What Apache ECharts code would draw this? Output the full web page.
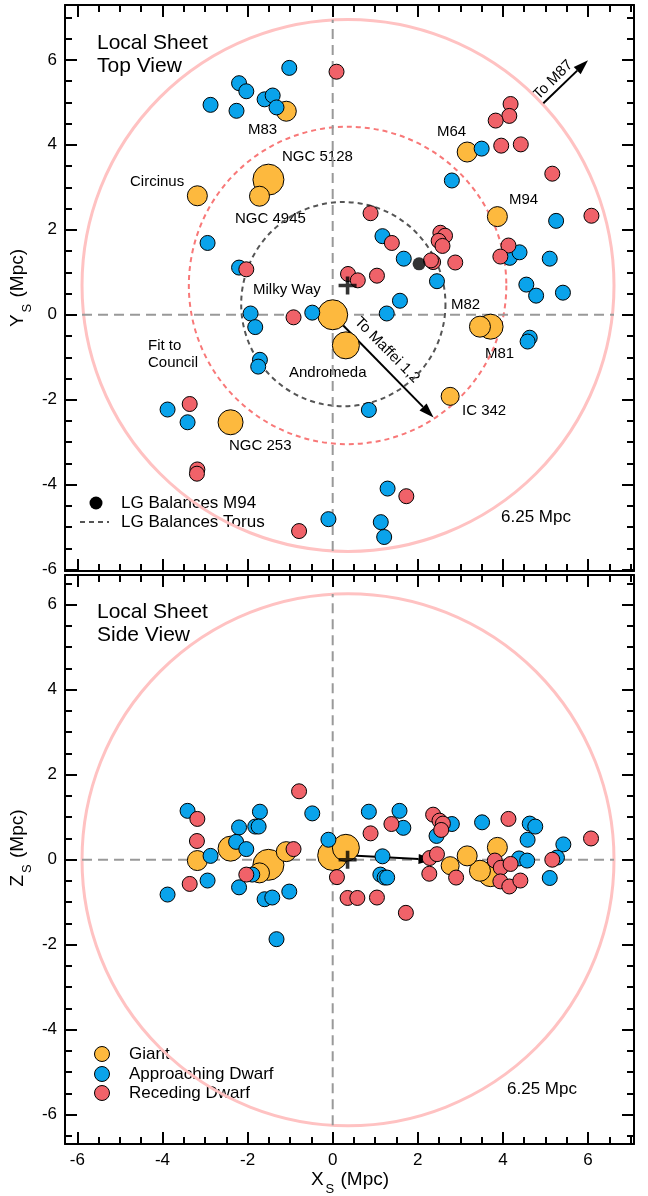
<!DOCTYPE html>
<html>
<head>
<meta charset="utf-8">
<script src="https://cdn.jsdelivr.net/npm/echarts@6/dist/echarts.min.js"></script>
<style>
  html, body { margin: 0; padding: 0; background: #fff; }
  #chart { width: 648px; height: 1196px; }
</style>
</head>
<body>
<div id="chart"></div>
<script>
// axis extents (Mpc)
const xRange = [-6.29, 7.08];
const yTopRange = [-6.03, 7.29];
const zSideRange = [-6.69, 6.70];

// giant galaxies, same order in both views
const giantNames = ['Milky Way', 'Andromeda', 'M81', 'M82', 'NGC 5128', 'M83', 'NGC 4945', 'Circinus', 'NGC 253', 'M64', 'M94', 'IC 342'];
const giantX = [0.00, 0.31, 3.71, 3.46, -1.51, -1.09, -1.72, -3.18, -2.40, 3.16, 3.87, 2.76];
const giantY = [0.00, -0.72, -0.28, -0.28, 3.18, 4.79, 2.79, 2.80, -2.53, 3.83, 2.31, -1.92];
const giantZ = [0.10, 0.28, -0.34, -0.26, -0.12, 0.19, -0.31, -0.02, 0.26, 0.09, 0.29, -0.14];
const giantMass = [1.5, 1.35, 1.25, 1.05, 1.55, 1.0, 1.0, 1.0, 1.25, 1.0, 1.0, 0.9];

// dwarfs, top view [X, Y]
const topApproaching = [
  [-1.02, 5.81], [-2.87, 4.94], [-2.20, 5.45], [-2.03, 5.26], [-2.26, 4.80], [-1.60, 5.07],
  [-1.41, 5.16], [-1.32, 4.88], [-2.94, 1.69], [-2.20, 1.11], [3.50, 3.91], [2.80, 3.16],
  [5.25, 2.21], [1.17, 1.85], [1.67, 1.32], [2.45, 0.79], [4.16, 1.34], [4.39, 1.47],
  [5.10, 1.32], [4.55, 0.71], [4.78, 0.45], [5.41, 0.52], [1.58, 0.33], [1.27, 0.03],
  [4.63, -0.54], [4.58, -0.63], [0.85, -2.24], [1.29, -4.09], [1.13, -4.88], [1.21, -5.23],
  [-0.10, -4.81], [-1.93, 0.03], [-1.82, -0.29], [-1.71, -1.06], [-1.75, -1.22],
  [-3.88, -2.23], [-3.41, -2.53], [-0.48, 0.05]
];
const topReceding = [
  [-2.03, 1.07], [0.09, 5.72], [4.18, 4.96], [4.15, 4.68], [3.83, 4.57], [3.96, 3.98],
  [4.42, 4.01], [5.16, 3.32], [6.08, 2.33], [0.89, 2.39], [1.39, 1.69], [2.53, 1.93],
  [2.64, 1.86], [2.49, 1.74], [2.58, 1.62], [2.36, 1.24], [2.31, 1.28], [2.88, 1.23],
  [0.36, 0.96], [0.59, 0.81], [1.04, 0.92], [4.13, 1.63], [3.94, 1.37], [-0.92, -0.06],
  [-3.36, -2.10], [-3.18, -3.64], [-3.19, -3.74], [-0.79, -5.09], [1.73, -4.27]
];

// dwarfs, side view [X, Z]
const sideApproaching = [
  [-3.41, 1.15], [-3.88, -0.82], [-2.87, 0.09], [-2.94, -0.49], [-2.20, 0.76], [-2.27, 0.42],
  [-2.03, 0.25], [-2.20, -0.65], [-1.71, 1.13], [-1.82, 0.78], [-1.74, 0.78], [-1.89, -0.35],
  [-1.60, -0.93], [-1.42, -0.89], [-1.02, -0.75], [-1.32, -1.87], [-0.48, 1.09], [-0.10, 0.47],
  [0.85, 1.13], [1.57, 1.15], [1.66, 0.75], [1.17, 0.08], [1.12, -0.35], [1.22, -0.42],
  [1.28, -0.42], [2.80, 0.84], [2.44, 0.56], [3.51, 0.88], [4.63, 0.85], [4.76, 0.78],
  [4.58, 0.47], [4.38, 0.03], [4.57, -0.02], [5.42, 0.36], [5.27, 0.05], [5.10, -0.43]
];
const sideReceding = [
  [-3.18, 0.96], [-3.19, 0.44], [-3.36, -0.57], [-2.03, -0.35], [-0.79, 1.61], [-0.92, 0.25],
  [0.10, -0.41], [0.35, -0.90], [0.58, -0.90], [1.04, -0.89], [0.89, 0.62], [1.38, 0.84],
  [1.72, -1.25], [2.36, 1.06], [2.51, 0.92], [2.59, 0.85], [2.55, 0.70], [2.28, 0.04],
  [2.45, 0.13], [2.27, -0.33], [2.90, -0.42], [4.13, 0.96], [3.81, -0.02], [3.95, -0.19],
  [4.18, -0.10], [3.94, -0.51], [4.15, -0.63], [4.41, -0.49], [5.16, 0.00], [6.07, 0.50]
];

// Local Group centre, balance points, rings [cx, cy, r]
const lgCentreTop = [[0.35, 0.69]];
const lgCentreSide = [[0.35, 0.00]];
const m94Balance = [[2.03, 1.20]];
const sheetRingTop = [[0.36, 0.69, 6.25]];
const sheetRingSide = [[0.36, 0.00, 6.25]];
const councilRing = [[0.35, 0.69, 3.73]];
const torusRing = [[0.25, 0.25, 2.40]];
// reference lines [x1, y1, x2, y2]
const crossTop = [[-5.89, 0, 6.61, 0], [0, -5.56, 0, 6.94]];
const crossSide = [[-5.89, 0, 6.61, 0], [0, -6.25, 0, 6.25]];
const arrowsTop = [[4.95, 4.98, 6.00, 5.99], [0.00, 0.00, 2.37, -2.42]];
const arrowsSide = [[0.00, 0.12, 2.37, 0.00]];

const FONT = '"Liberation Sans", Arial, Helvetica, sans-serif';
const C_GIANT = '#FDB93E', C_APP = '#0AA3EB', C_REC = '#F06269';

let myChart = echarts.init(document.getElementById('chart'));

function makeAxis(grid, pos, range, labels) {
  return {
    type: 'value', gridIndex: grid, position: pos,
    min: range[0], max: range[1], splitNumber: 7,
    axisLine: { show: true, onZero: false, lineStyle: { color: '#000', width: 2 } },
    axisTick: { show: true, inside: true, length: 12, lineStyle: { color: '#000', width: 2 } },
    minorTick: { show: true, splitNumber: 4, length: 7, lineStyle: { color: '#000', width: 2 } },
    splitLine: { show: false },
    axisLabel: {
      show: labels, showMinLabel: false, showMaxLabel: false,
      color: '#000', fontSize: 17, fontFamily: FONT, margin: 8,
      formatter: v => (Math.abs(v / 2 - Math.round(v / 2)) < 1e-6 ? String(Math.round(v)) : '')
    }
  };
}

function ringSeries(data, xi, yi, style) {
  return {
    type: 'custom', xAxisIndex: xi, yAxisIndex: yi, silent: true, data,
    renderItem: (params, api) => {
      const c = api.coord([api.value(0), api.value(1)]);
      const r = api.size([api.value(2), 0])[0];
      return { type: 'circle', shape: { cx: c[0], cy: c[1], r }, style: Object.assign({ fill: 'none' }, style) };
    }
  };
}

function segSeries(data, xi, yi, style) {
  return {
    type: 'custom', xAxisIndex: xi, yAxisIndex: yi, silent: true, data,
    renderItem: (params, api) => {
      const a = api.coord([api.value(0), api.value(1)]);
      const b = api.coord([api.value(2), api.value(3)]);
      return { type: 'line', shape: { x1: a[0], y1: a[1], x2: b[0], y2: b[1] }, style };
    }
  };
}

function arrowSeries(data, xi, yi) {
  return {
    type: 'custom', xAxisIndex: xi, yAxisIndex: yi, silent: true, data,
    renderItem: (params, api) => {
      const a = api.coord([api.value(0), api.value(1)]);
      const b = api.coord([api.value(2), api.value(3)]);
      const ang = Math.atan2(b[1] - a[1], b[0] - a[0]);
      const L = 15, W = 5;
      const bx = b[0] - L * Math.cos(ang), by = b[1] - L * Math.sin(ang);
      const px = -Math.sin(ang) * W, py = Math.cos(ang) * W;
      return {
        type: 'group', children: [
          { type: 'line', shape: { x1: a[0], y1: a[1], x2: bx, y2: by }, style: { stroke: '#000', lineWidth: 2 } },
          { type: 'polygon', shape: { points: [[b[0], b[1]], [bx + px, by + py], [bx - px, by - py]] }, style: { fill: '#000' } }
        ]
      };
    }
  };
}

function dots(data, xi, yi, color, size) {
  return {
    type: 'scatter', xAxisIndex: xi, yAxisIndex: yi, silent: true, data,
    symbol: 'circle', symbolSize: size,
    itemStyle: { color, borderColor: '#000', borderWidth: 1, opacity: 1 }
  };
}

const plusPath = 'path://M4,0h2v4h4v2h-4v4h-2v-4h-4v-2h4z';
const giantTop = giantX.map((x, i) => [x, giantY[i], giantMass[i], giantNames[i]]);
const giantSide = giantX.map((x, i) => [x, giantZ[i], giantMass[i], giantNames[i]]);

function txt(x, y, text, size, extra) {
  return Object.assign({
    type: 'text', x, y, silent: true,
    style: { text, fontSize: size, fontFamily: FONT, fill: '#000', align: 'left', verticalAlign: 'middle', textAlign: 'left', textVerticalAlign: 'middle' }
  }, extra || {});
}
function rotTxt(x, y, text, rot) {
  return {
    type: 'text', x, y, rotation: rot, silent: true,
    style: { text, fontSize: 15, fontFamily: FONT, fill: '#000', align: 'center', verticalAlign: 'middle', textAlign: 'center', textVerticalAlign: 'middle' }
  };
}

const subRich = {
  b: { fontSize: 19, fontFamily: FONT, lineHeight: 22, verticalAlign: 'top', color: '#000' },
  s: { fontSize: 13, fontFamily: FONT, lineHeight: 25, verticalAlign: 'bottom', color: '#000', padding: [0, 1, 0, 2] }
};
function axisTitle(x, y, letter, rot) {
  return {
    type: 'text', x, y, rotation: rot, silent: true,
    style: { text: '{b|' + letter + '}{s|S}{b| (Mpc)}', rich: subRich, align: 'center', verticalAlign: 'middle', textAlign: 'center', textVerticalAlign: 'middle' }
  };
}
function legendDot(x, y, color, size) {
  return { type: 'circle', silent: true, shape: { cx: x, cy: y, r: size / 2 }, style: { fill: color, stroke: '#000', lineWidth: 1 } };
}

let option = {
  animation: false,
  backgroundColor: '#fff',
  grid: [
    { left: 65, right: 14, top: 5, height: 566 },
    { left: 65, right: 14, top: 575, height: 569 }
  ],
  xAxis: [
    makeAxis(0, 'bottom', xRange, false),
    makeAxis(0, 'top', xRange, false),
    makeAxis(1, 'bottom', xRange, true),
    makeAxis(1, 'top', xRange, false)
  ],
  yAxis: [
    makeAxis(0, 'left', yTopRange, true),
    makeAxis(0, 'right', yTopRange, false),
    makeAxis(1, 'left', zSideRange, true),
    makeAxis(1, 'right', zSideRange, false)
  ],
  series: [
    // top view
    ringSeries(sheetRingTop, 0, 0, { stroke: '#FFC2C2', lineWidth: 3 }),
    ringSeries(councilRing, 0, 0, { stroke: '#F87878', lineWidth: 2, lineDash: [5, 4] }),
    ringSeries(torusRing, 0, 0, { stroke: '#555', lineWidth: 2, lineDash: [5, 4] }),
    segSeries(crossTop, 0, 0, { stroke: '#999', lineWidth: 2, lineDash: [10, 6] }),
    dots(giantTop, 0, 0, C_GIANT, v => v[2] * 20),
    dots(topApproaching, 0, 0, C_APP, 15),
    dots(topReceding, 0, 0, C_REC, 15),
    arrowSeries(arrowsTop, 0, 0),
    { type: 'scatter', xAxisIndex: 0, yAxisIndex: 0, silent: true, data: lgCentreTop, symbol: plusPath, symbolSize: 18, itemStyle: { color: '#000' } },
    { type: 'scatter', xAxisIndex: 0, yAxisIndex: 0, silent: true, data: m94Balance, symbol: 'circle', symbolSize: 13, itemStyle: { color: '#000' } },
    // side view
    ringSeries(sheetRingSide, 2, 2, { stroke: '#FFC2C2', lineWidth: 3 }),
    segSeries(crossSide, 2, 2, { stroke: '#999', lineWidth: 2, lineDash: [10, 6] }),
    dots(giantSide, 2, 2, C_GIANT, v => v[2] * 20),
    dots(sideApproaching, 2, 2, C_APP, 15),
    dots(sideReceding, 2, 2, C_REC, 15),
    arrowSeries(arrowsSide, 2, 2),
    { type: 'scatter', xAxisIndex: 2, yAxisIndex: 2, silent: true, data: lgCentreSide, symbol: plusPath, symbolSize: 18, itemStyle: { color: '#000' } }
  ],
  graphic: [
    axisTitle(21, 288, 'Y', Math.PI / 2),
    axisTitle(21, 848, 'Z', Math.PI / 2),
    axisTitle(350, 1183, 'X', 0),
    // top panel texts
    txt(97, 43, 'Local Sheet', 21),
    txt(97, 66, 'Top View', 21),
    txt(248, 130, 'M83', 15),
    txt(282, 157, 'NGC 5128', 15),
    txt(130, 182, 'Circinus', 15),
    txt(235, 219, 'NGC 4945', 15),
    txt(253, 290, 'Milky Way', 15),
    txt(437, 132, 'M64', 15),
    txt(509, 200, 'M94', 15),
    txt(451, 305, 'M82', 15),
    txt(485, 354, 'M81', 15),
    txt(289, 373, 'Andromeda', 15),
    txt(462, 411, 'IC 342', 15),
    txt(229, 446, 'NGC 253', 15),
    txt(148, 346, 'Fit to', 15),
    txt(148, 363, 'Council', 15),
    txt(501, 517, '6.25 Mpc', 17),
    rotTxt(553, 80, 'To M87', Math.PI / 4),
    rotTxt(387, 350, 'To Maffei 1,2', -0.79),
    { type: 'circle', silent: true, shape: { cx: 96, cy: 503, r: 6.5 }, style: { fill: '#000' } },
    txt(121, 503, 'LG Balances M94', 17),
    { type: 'line', silent: true, shape: { x1: 80, y1: 522, x2: 109, y2: 522 }, style: { stroke: '#555', lineWidth: 2, lineDash: [5, 4] } },
    txt(121, 522, 'LG Balances Torus', 17),
    // side panel texts
    txt(97, 612, 'Local Sheet', 21),
    txt(97, 635, 'Side View', 21),
    legendDot(102, 1054, C_GIANT, 15),
    legendDot(102, 1074, C_APP, 15),
    legendDot(102, 1093, C_REC, 15),
    txt(129, 1054, 'Giant', 17),
    txt(129, 1074, 'Approaching Dwarf', 17),
    txt(129, 1093, 'Receding Dwarf', 17),
    txt(507, 1089, '6.25 Mpc', 17)
  ]
};

myChart.setOption(option);
</script>
</body>
</html>
